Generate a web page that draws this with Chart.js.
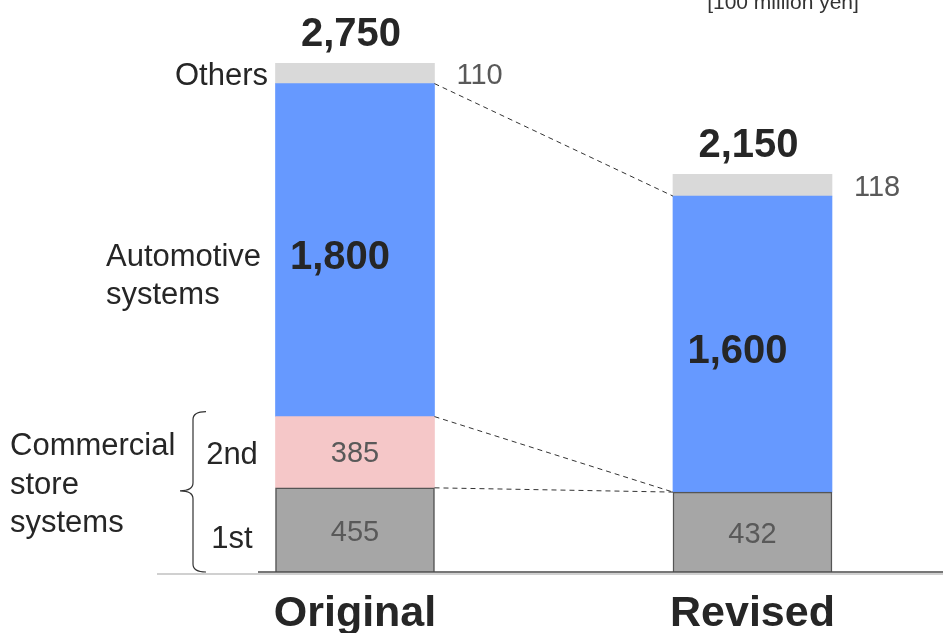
<!DOCTYPE html>
<html>
<head>
<meta charset="utf-8">
<script src="https://cdn.jsdelivr.net/npm/chart.js@4"></script>
<style>
  html, body { margin: 0; padding: 0; background: #fff; overflow: hidden; }
  #wrap { width: 943px; height: 633px; }
</style>
</head>
<body>
<div id="wrap"><canvas id="salesChart" width="943" height="633"></canvas></div>
<script>
// Sales forecast by segment [100 million yen]
const categories = ["Original", "Revised"];
const firstHalf = [455, 432];
const secondHalf = [385, null];
const automotive = [1800, 1600];
const others = [110, 118];

const FONT = '"Liberation Sans", Arial, sans-serif';
const fmt = v => v.toLocaleString("en-US");
const pts = arr => arr.map((v, i) => ({ x: i, y: v }));

function mid(bar) { return (bar.y + bar.base) / 2; }

// Labels, connectors, brace and base line
const annotate = {
    id: "annotate",
    afterDatasetsDraw(chart) {
        const ctx = chart.ctx;
        const xs = chart.scales.x;
        const meta = i => chart.getDatasetMeta(i).data;
        const first = meta(0), second = meta(1), auto = meta(2), other = meta(3);
        ctx.save();

        // base line
        ctx.strokeStyle = "#d0d0d0";
        ctx.lineWidth = 2;
        ctx.beginPath(); ctx.moveTo(157, 574); ctx.lineTo(943, 574); ctx.stroke();
        ctx.strokeStyle = "#4a4a4a";
        ctx.lineWidth = 1.5;
        ctx.beginPath(); ctx.moveTo(258, 572); ctx.lineTo(943, 572); ctx.stroke();

        // dashed connectors between the two bars
        const right = b => b.x + b.width / 2;
        const left = b => b.x - b.width / 2;
        ctx.strokeStyle = "#333";
        ctx.lineWidth = 1;
        ctx.setLineDash([5, 4]);
        [[auto[0], auto[1]], [second[0], first[1]], [first[0], first[1]]].forEach(([a, b]) => {
            ctx.beginPath();
            ctx.moveTo(right(a), a.y);
            ctx.lineTo(left(b), b.y);
            ctx.stroke();
        });
        ctx.setLineDash([]);

        ctx.textBaseline = "middle";
        ctx.textAlign = "center";

        categories.forEach((c, i) => {
            // segment values
            ctx.fillStyle = "#595959";
            ctx.font = "29px " + FONT;
            ctx.fillText(fmt(firstHalf[i]), first[i].x, mid(first[i]) + 3);
            if (secondHalf[i] != null) ctx.fillText(fmt(secondHalf[i]), second[i].x, mid(second[i]) + 2);
            ctx.textAlign = "left";
            ctx.fillText(fmt(others[i]), right(other[i]) + 22, mid(other[i]) + 3);
            ctx.textAlign = "center";

            ctx.fillStyle = "#262626";
            ctx.font = "bold 40px " + FONT;
            ctx.fillText(fmt(automotive[i]), auto[i].x - 15, mid(auto[i]) + 8);

            // totals
            const total = firstHalf[i] + (secondHalf[i] || 0) + automotive[i] + others[i];
            ctx.textBaseline = "alphabetic";
            ctx.fillText(fmt(total), other[i].x - 4, other[i].y - 17);

            // category names
            ctx.font = "bold 43px " + FONT;
            ctx.fillText(c, xs.getPixelForValue(i), 626);
            ctx.textBaseline = "middle";
        });

        // segment names on the left
        ctx.fillStyle = "#262626";
        ctx.font = "31px " + FONT;
        ctx.textAlign = "right";
        ctx.fillText("Others", 268, mid(other[0]) + 3);
        ctx.textAlign = "left";
        const am = mid(auto[0]);
        ctx.fillText("Automotive", 106, am + 7);
        ctx.fillText("systems", 106, am + 45);
        ctx.textAlign = "center";
        ctx.fillText("2nd", 232, mid(second[0]) + 3);
        ctx.fillText("1st", 232, mid(first[0]) + 10);

        // brace grouping 1st and 2nd
        const top = second[0].y - 5, bot = first[0].base, tip = first[0].y + 3;
        ctx.strokeStyle = "#333";
        ctx.lineWidth = 1.2;
        ctx.beginPath();
        ctx.moveTo(206, top);
        ctx.quadraticCurveTo(193, top, 193, top + 8);
        ctx.lineTo(193, tip - 8);
        ctx.quadraticCurveTo(193, tip, 180, tip);
        ctx.quadraticCurveTo(193, tip, 193, tip + 8);
        ctx.lineTo(193, bot - 8);
        ctx.quadraticCurveTo(193, bot, 206, bot);
        ctx.stroke();

        ctx.textAlign = "left";
        ctx.fillText("Commercial", 10, tip - 44);
        ctx.fillText("store", 10, tip - 5);
        ctx.fillText("systems", 10, tip + 33);

        // unit note
        ctx.fillStyle = "#333";
        ctx.font = "21px " + FONT;
        ctx.textAlign = "center";
        ctx.textBaseline = "alphabetic";
        ctx.fillText("[100 million yen]", 783, 9);

        ctx.restore();
    }
};

new Chart(document.getElementById("salesChart"), {
    type: "bar",
    data: {
        datasets: [
            { label: "1st", data: pts(firstHalf), backgroundColor: "#a6a6a6", borderColor: "#555", borderWidth: 1.5 },
            { label: "2nd", data: pts(secondHalf), backgroundColor: "#f5c7c8" },
            { label: "Automotive systems", data: pts(automotive), backgroundColor: "#6699ff" },
            { label: "Others", data: pts(others), backgroundColor: "#d9d9d9" }
        ]
    },
    options: {
        responsive: false,
        animation: false,
        barThickness: 159,
        layout: { padding: { left: 157, right: 0, top: 17, bottom: 61 } },
        plugins: { legend: { display: false }, tooltip: { enabled: false } },
        scales: {
            x: { type: "linear", stacked: true, display: false, offset: false, min: -0.4981, max: 1.4793 },
            y: { stacked: true, display: false, min: 0, max: 3000 }
        }
    },
    plugins: [annotate]
});
</script>
</body>
</html>
